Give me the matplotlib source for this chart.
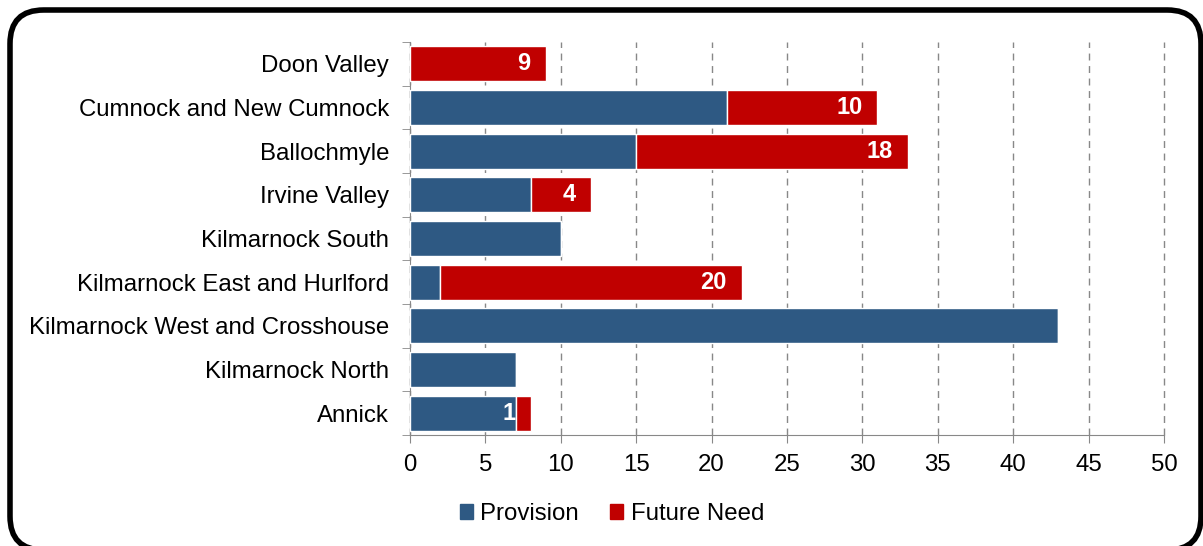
import matplotlib.pyplot as plt
import numpy as np
from matplotlib.patches import FancyBboxPatch

plt.rcParams['font.family'] = ['Liberation Sans', 'DejaVu Sans']

areas = ['Doon Valley', 'Cumnock and New Cumnock', 'Ballochmyle', 'Irvine Valley',
         'Kilmarnock South', 'Kilmarnock East and Hurlford',
         'Kilmarnock West and Crosshouse', 'Kilmarnock North', 'Annick']
provision = [0, 21, 15, 8, 10, 2, 43, 7, 7]
future_need = [9, 10, 18, 4, 0, 20, 0, 0, 1]

blue = '#2e5983'
red = '#c00000'

fig = plt.figure(figsize=(12.03, 5.46), dpi=100)
ax = fig.add_axes([410 / 1203, 1 - 435 / 546, (1164 - 410) / 1203, (435 - 42) / 546])

y = np.arange(len(areas))[::-1]
ax.barh(y, provision, height=0.8, color=blue, edgecolor='white', linewidth=1, zorder=3)
ax.barh(y, future_need, left=provision, height=0.8, color=red, edgecolor='white',
        linewidth=1, zorder=3)

# labels for future need, at the inside end of the stacked bar
for yi, p, f in zip(y, provision, future_need):
    if f > 0:
        ax.text(p + f - 1.0, yi, str(f), ha='right', va='center', color='white',
                fontsize=17, fontweight='bold', zorder=4)

ax.set_xlim(0, 50)
ax.set_ylim(-0.5, len(areas) - 0.5)
ax.set_xticks(range(0, 51, 5))
ax.set_yticks(y)
ax.set_yticklabels(areas)
ax.set_yticks(np.arange(-0.5, len(areas), 1), minor=True)
ax.tick_params(axis='y', which='major', length=0, pad=15, labelsize=17.3)
ax.tick_params(axis='y', which='minor', length=6, color='#888888', direction='out')
ax.tick_params(axis='x', length=6, color='#888888', direction='out', labelsize=17.3, pad=8)

ax.grid(axis='x', color='#888888', linestyle=(0, (5, 4)), linewidth=1, zorder=0)
for line in ax.get_xgridlines():
    line.set_clip_on(False)
for side in ['top', 'right']:
    ax.spines[side].set_visible(False)
for side in ['left', 'bottom']:
    ax.spines[side].set_color('#888888')

handles = [plt.Rectangle((0, 0), 1, 1, color=blue), plt.Rectangle((0, 0), 1, 1, color=red)]
fig.legend(handles, ['Provision', 'Future Need'], loc='center',
           bbox_to_anchor=(612 / 1203, 1 - 514 / 546), ncol=2, frameon=False,
           fontsize=17.3, handlelength=0.55, handleheight=0.55, handletextpad=0.3,
           columnspacing=1.3)

# rounded frame around the chart
frame = FancyBboxPatch((10 / 1203, 1 - 550 / 546), 1191 / 1203, 540 / 546,
                       boxstyle='round,pad=0,rounding_size=0.028',
                       transform=fig.transFigure, fill=False, edgecolor='black',
                       linewidth=4, clip_on=False, mutation_aspect=1203 / 546)
fig.patches.append(frame)

fig.savefig('out.png', dpi=100)
